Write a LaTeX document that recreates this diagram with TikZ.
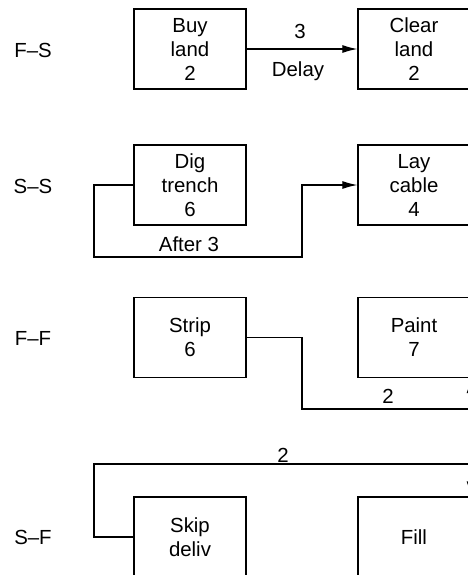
\documentclass[tikz,border=0pt]{standalone}
\usepackage{fontspec}
\setmainfont{Liberation Sans}
\usetikzlibrary{arrows.meta}
\begin{document}
\begin{tikzpicture}[x=0.5pt, y=-0.5pt, >={Latex[length=7.5pt,width=4pt]}, line width=0.6pt,
  act/.style={draw, minimum width=56pt, minimum height=40pt, inner sep=0pt,
    align=center, font=\fontsize{10.2}{12}\selectfont},
  lbl/.style={font=\fontsize{10.2}{12}\selectfont}]
\def\xl{33}
\def\xa{190}
\def\xb{414}
\useasboundingbox (0,0) rectangle (468,575);
\clip (0,0) rectangle (468,575);
% row labels
\node[lbl] (fs) at (\xl,50)  {F--S};
\node[lbl] (ss) at (\xl,186) {S--S};
\node[lbl] (ff) at (\xl,338) {F--F};
\node[lbl] (sf) at (\xl,537) {S--F};
% activities
\node[act] (buy)   at (\xa,49)    {Buy\\land\\2};
\node[act] (clear) at (\xb,49)    {Clear\\land\\2};
\node[act] (dig)   at (\xa,185)   {Dig\\trench\\6};
\node[act] (lay)   at (\xb,185)   {Lay\\cable\\4};
\node[act] (strip) at (\xa,337.5) {Strip\\6};
\node[act] (paint) at (\xb,337.5) {Paint\\7};
\node[act] (skip)  at (\xa,537)   {Skip\\deliv};
\node[act] (fill)  at (\xb,537)   {Fill};
% links
\coordinate (c2a) at (94,257);
\coordinate (c2b) at (302,257);
\coordinate (c3)  at (302,409);
\coordinate (c4)  at (94,464);
\draw[->] (buy) -- (clear);
\draw[->] (dig.west) -| (c2a) -- (c2b) |- (lay.west);
\draw[->] (strip.east) -| (c3) -| (paint.south east);
\draw[->] (skip.west) -| (c4) -| (fill.north east);
% lags
\node[lbl] (l1a) at (300,31)  {3};
\node[lbl] (l1b) at (298,71)  {Delay};
\node[lbl] (l2)  at (189,244) {After 3};
\node[lbl] (l3)  at (388,396) {2};
\node[lbl] (l4)  at (283,455) {2};
\end{tikzpicture}
\end{document}
